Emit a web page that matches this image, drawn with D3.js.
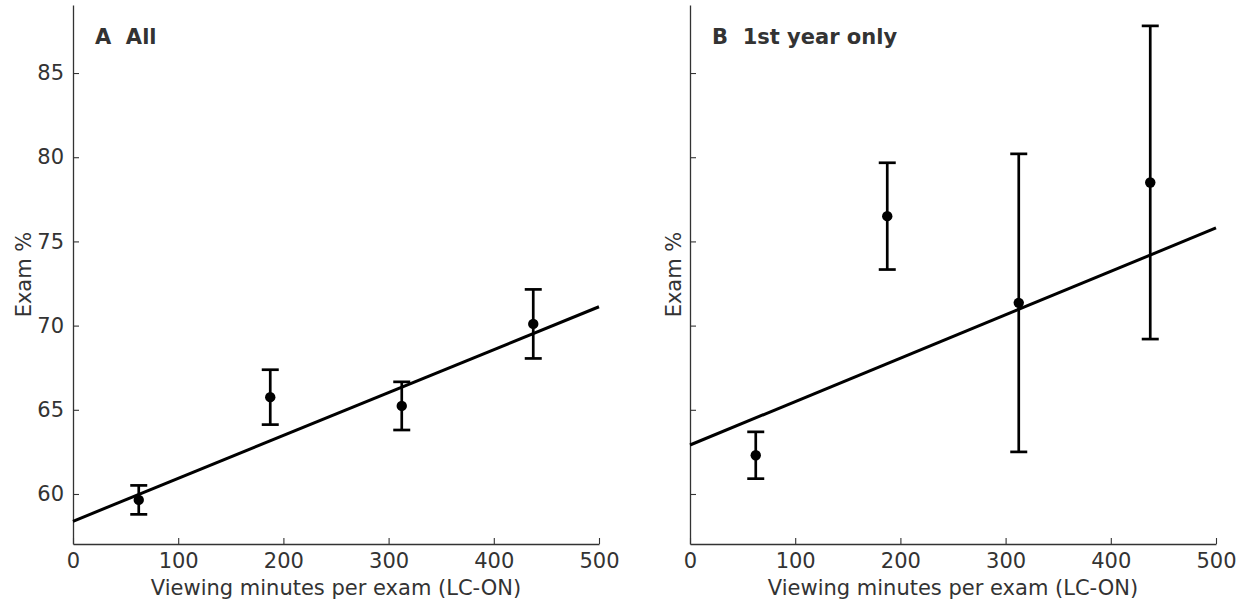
<!DOCTYPE html>
<html>
<meta charset="utf-8">
<script src="https://cdn.jsdelivr.net/npm/d3@7/dist/d3.min.js"></script>
<title>Exam vs viewing minutes</title>
<style>
body { margin: 0; background: #fff; }
text { font-family: "DejaVu Sans", sans-serif; }
</style>
<body>
<script type="text/javascript">

// bin centres (viewing minutes per exam)
var minutes = [62.5, 187.5, 312.5, 437.5];

// panel A: all students
var meanAll = [59.65, 65.75, 65.23, 70.1];
var errAll  = [0.86, 1.63, 1.43, 2.05];
var fitAll  = [58.38, 71.12];   // line value at x=0 and x=500

// panel B: 1st year only
var meanFirst = [62.3, 76.5, 71.35, 78.5];
var errFirst  = [1.39, 3.17, 8.85, 9.3];
var fitFirst  = [62.91, 75.8];

var xTicks = [0, 100, 200, 300, 400, 500];
var yTicks = [60, 65, 70, 75, 80, 85];

var panels = [
    { title: "A  All", mean: meanAll, err: errAll, fit: fitAll, left: 73, labels: true, ylab: 42 },
    { title: "B  1st year only", mean: meanFirst, err: errFirst, fit: fitFirst, left: 690, labels: false, ylab: 9 }
];

var size = { width : 1247, height : 602 };
var plotW = 526, plotTop = 5, plotBottom = 544;
var fontSize = "21px";

var svg = d3.select("body")
    .append("svg")
    .attr("width", size.width)
    .attr("height", size.height);

var yScale = d3.scaleLinear()
    .domain([57.03, 89.04])
    .range([plotBottom, plotTop]);

panels.forEach(function(p) {
    var xScale = d3.scaleLinear()
        .domain([0, 500])
        .range([p.left, p.left + plotW]);

    var g = svg.append("g");

    // x axis, ticks pointing in
    var ax = g.append("g")
        .attr("transform", "translate(0," + plotBottom + ")")
        .call(d3.axisBottom(xScale).tickValues(xTicks).tickSizeInner(-6).tickSizeOuter(0).tickPadding(9));
    ax.select(".domain").attr("stroke", "#333").attr("stroke-width", 1.3);
    ax.selectAll(".tick line").attr("stroke", "#333").attr("stroke-width", 1.1);
    ax.selectAll(".tick text")
        .style("font-size", fontSize).attr("fill", "#333");

    var ay = g.append("g")
        .attr("transform", "translate(" + p.left + ",0)")
        .call(d3.axisLeft(yScale).tickValues(yTicks).tickSizeInner(-6).tickSizeOuter(0).tickPadding(9)
            .tickFormat(p.labels ? d3.format("d") : function() { return ""; }));
    ay.select(".domain").attr("stroke", "#333").attr("stroke-width", 1.3);
    ay.selectAll(".tick line").attr("stroke", "#333").attr("stroke-width", 1.1);
    ay.selectAll(".tick text")
        .style("font-size", fontSize).attr("fill", "#333");

    // axis labels
    g.append("text")
        .attr("x", p.left + plotW / 2)
        .attr("y", 595)
        .attr("text-anchor", "middle")
        .style("font-size", fontSize)
        .attr("fill", "#333")
        .text("Viewing minutes per exam (LC-ON)");

    g.append("text")
        .attr("transform", "translate(" + (p.left - p.ylab) + "," + ((plotTop + plotBottom) / 2) + ") rotate(-90)")
        .attr("text-anchor", "middle")
        .style("font-size", fontSize)
        .attr("fill", "#333")
        .text("Exam %");

    // panel title
    g.append("text")
        .attr("x", p.left + 22)
        .attr("y", 44)
        .style("font-size", "21px")
        .style("font-weight", "bold")
        .style("white-space", "pre")
        .attr("fill", "#333")
        .text(p.title);

    // regression line
    g.append("line")
        .attr("x1", xScale(0)).attr("y1", yScale(p.fit[0]))
        .attr("x2", xScale(500)).attr("y2", yScale(p.fit[1]))
        .attr("stroke", "#000")
        .attr("stroke-width", 3);

    var pts = minutes.map(function(m, i) {
        return { x: m, y: p.mean[i], e: p.err[i] };
    });

    var bars = g.selectAll(".err")
        .data(pts)
        .enter()
        .append("g")
        .attr("class", "err");

    bars.append("line")
        .attr("x1", function(d) { return xScale(d.x); })
        .attr("x2", function(d) { return xScale(d.x); })
        .attr("y1", function(d) { return yScale(d.y - d.e); })
        .attr("y2", function(d) { return yScale(d.y + d.e); })
        .attr("stroke", "#000").attr("stroke-width", 2.7);

    [-1, 1].forEach(function(s) {
        bars.append("line")
            .attr("x1", function(d) { return xScale(d.x) - 8.5; })
            .attr("x2", function(d) { return xScale(d.x) + 8.5; })
            .attr("y1", function(d) { return yScale(d.y + s * d.e); })
            .attr("y2", function(d) { return yScale(d.y + s * d.e); })
            .attr("stroke", "#000").attr("stroke-width", 2.7);
    });

    bars.append("circle")
        .attr("cx", function(d) { return xScale(d.x); })
        .attr("cy", function(d) { return yScale(d.y); })
        .attr("r", 5.2)
        .attr("fill", "#000");
});

</script>
</body>
</html>
